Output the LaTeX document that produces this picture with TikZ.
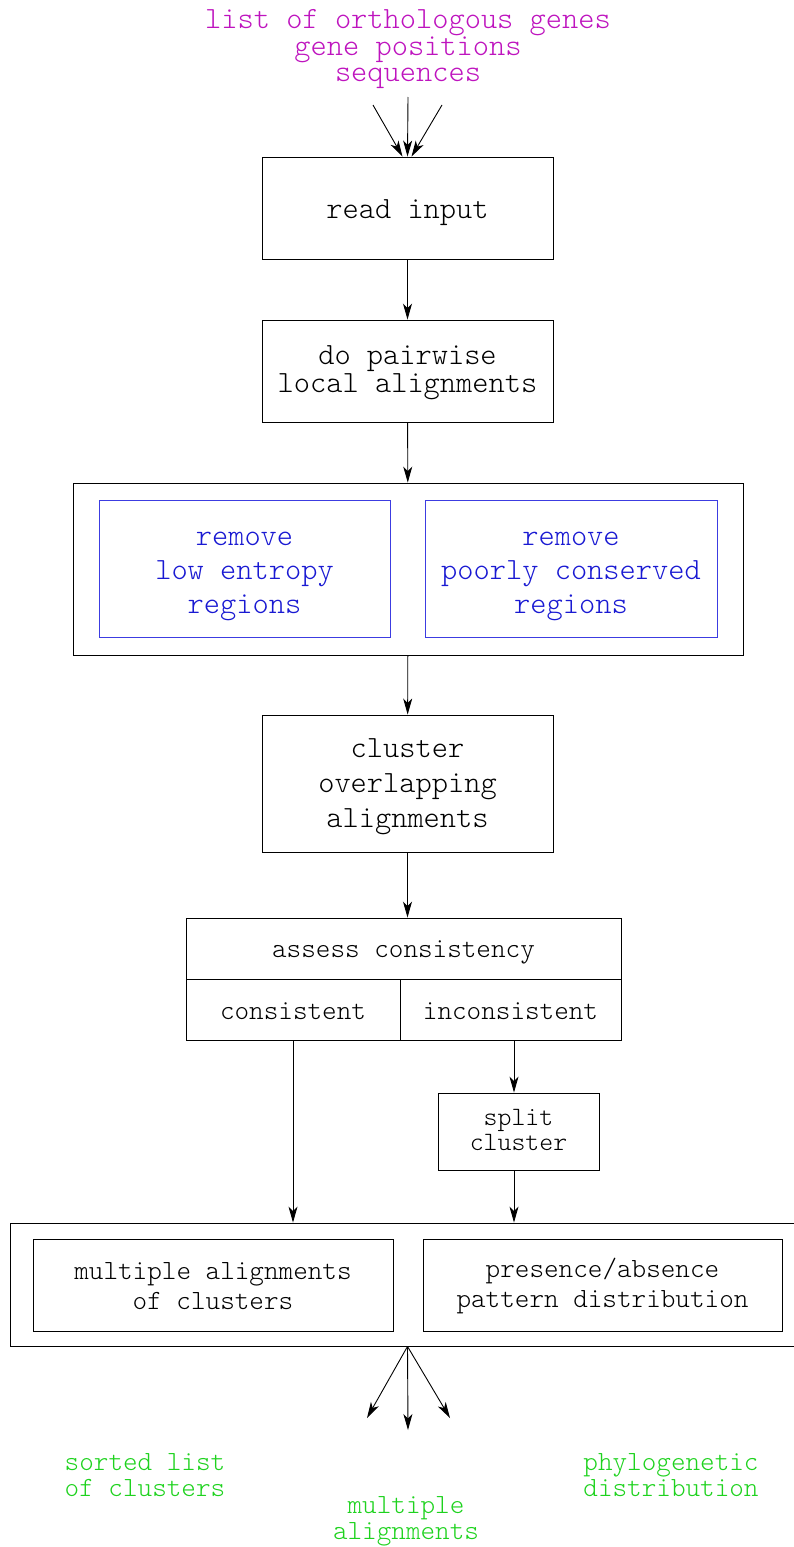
\documentclass[tikz,border=0pt]{standalone}
\usepackage{fontspec}
\setmainfont{lmmonolt10-regular.otf}
\usetikzlibrary{arrows.meta}
\definecolor{inmag}{RGB}{190,20,190}
\definecolor{outgreen}{RGB}{30,210,30}
\definecolor{regblue}{RGB}{25,25,210}
\definecolor{regline}{RGB}{60,60,225}

\begin{document}
\begin{tikzpicture}[x=1pt,y=-1pt,
  box/.style={draw=black, line width=0.9pt, inner sep=0pt},
  bluebox/.style={draw=regline, line width=0.8pt, inner sep=0pt,
              minimum width=291pt, minimum height=137pt},
  txt/.style={inner sep=0pt, align=center, font={\fontsize{30.9}{28}\selectfont}},
  smalltxt/.style={inner sep=0pt, align=center, font={\fontsize{27.8}{30}\selectfont}},
  bluetxt/.style={txt, text=regblue, font={\fontsize{30.9}{34}\selectfont}},
  outtxt/.style={inner sep=0pt, align=center, text=outgreen,
              font={\fontsize{27.8}{26}\selectfont}},
  arr/.style={-{Stealth[length=16pt,width=9pt,inset=4.5pt]}, line width=0.9pt}]

\useasboundingbox (0,0) rectangle (794,1547);

% inputs
\node[txt, text=inmag, font={\fontsize{30.9}{26}\selectfont}] (inputs) at (408,49)
  {list of orthologous genes\\gene positions\\sequences};
\coordinate (in1) at (373,105);
\coordinate (in2) at (408,97);
\coordinate (in3) at (442,105);

% main pipeline
\node[box, minimum width=291pt, minimum height=102pt] (read) at (407.5,208) {};
\node[txt] (read-t) at (407.5,213) {read input};

\node[box, minimum width=291pt, minimum height=102pt] (pair) at (407.5,371) {};
\node[txt] (pair-t) at (407.5,373) {do pairwise\\local alignments};

\node[box, minimum width=670pt, minimum height=172pt] (filter) at (408,569) {};
\node[bluebox] (lowent) at (244.5,568.5) {};
\node[bluetxt] (lowent-t) at (244.5,576) {remove\\low entropy\\regions};
\node[bluebox, minimum width=292pt] (poorly) at (571,568.5) {};
\node[bluetxt] (poorly-t) at (571,576) {remove\\poorly conserved\\regions};

\node[box, minimum width=291pt, minimum height=137pt] (clus) at (407.5,783.5) {};
\node[txt, font={\fontsize{30.9}{35}\selectfont}] (clus-t) at (407.5,787)
  {cluster\\overlapping\\alignments};

% consistency assessment table
\node[box, minimum width=435pt, minimum height=61pt] (assess) at (403.5,948.5) {};
\node[smalltxt] (assess-t) at (403.5,952.5) {assess consistency};
\node[box, minimum width=214pt, minimum height=61pt] (cons) at (293,1009.5) {};
\node[smalltxt] (cons-t) at (293,1011.5) {consistent};
\node[box, minimum width=221pt, minimum height=61pt] (incons) at (510.5,1009.5) {};
\node[smalltxt] (incons-t) at (510.5,1011.5) {inconsistent};

\node[box, minimum width=161pt, minimum height=77pt] (split) at (518.5,1131.5) {};
\node[smalltxt, font={\fontsize{26.5}{25}\selectfont}] (split-t) at (518.5,1129.5) {split\\cluster};

% output stage
\node[box, minimum width=790pt, minimum height=123pt] (outstage) at (405,1284.5) {};
\node[box, minimum width=360pt, minimum height=92pt] (malign) at (213,1285) {};
\node[smalltxt] (malign-t) at (213,1286) {multiple alignments\\of clusters};
\node[box, minimum width=359pt, minimum height=92pt] (pattern) at (602.5,1285) {};
\node[smalltxt] (pattern-t) at (602.5,1286) {presence/absence\\pattern distribution};

\coordinate (fan) at (read.south |- outstage.south);
\coordinate (out1) at (367,1418);
\coordinate (out2) at (408,1430);
\coordinate (out3) at (450,1418);

% outputs
\node[outtxt] (sorted) at (145,1475) {sorted list\\of clusters};
\node[outtxt] (phylo) at (671,1475) {phylogenetic\\distribution};
\node[outtxt] (multi) at (406,1521) {multiple\\alignments};

% connectors
\draw[arr] (in1) -- ([xshift=-5pt]read.north);
\draw[arr] (in2) -- (read.north);
\draw[arr] (in3) -- ([xshift=4pt]read.north);
\draw[arr] (read) -- (pair);
\draw[arr] (pair) -- (filter);
\draw[arr] (filter) -- (clus);
\draw[arr] (clus.south) -- (clus.south |- assess.north);
\draw[arr] (cons.south) -- (cons.south |- outstage.north);
\draw[arr] ([xshift=-4.5pt]split.north |- incons.south) -- ([xshift=-4.5pt]split.north);
\draw[arr] ([xshift=-4.5pt]split.south) -- ([xshift=-4.5pt]split.south |- outstage.north);
\draw[arr] (fan) -- (out1);
\draw[arr] (fan) -- (out2);
\draw[arr] (fan) -- (out3);
\end{tikzpicture}
\end{document}
